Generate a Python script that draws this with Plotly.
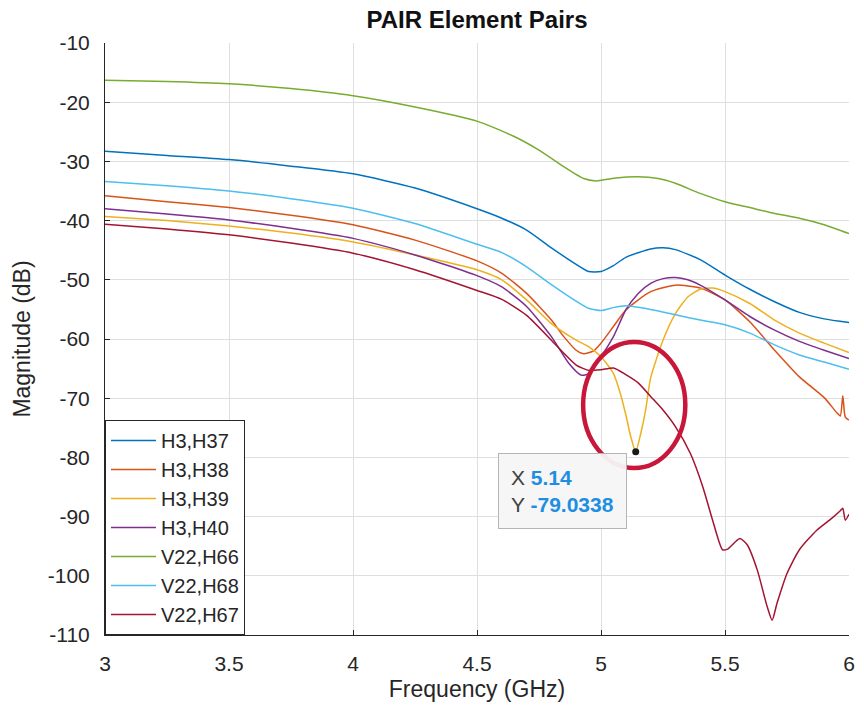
import plotly.graph_objects as go

# ---------------- data ----------------
series_names = ["H3,H37", "H3,H38", "H3,H39", "H3,H40", "V22,H66", "V22,H68", "V22,H67"]
series_colors = ["#0072BD", "#D95319", "#EDB120", "#7E2F8E", "#77AC30", "#4DBEEE", "#A2142F"]

x_h37 = [3.0, 3.25, 3.5, 3.75, 4.0, 4.25, 4.5, 4.6, 4.7, 4.8, 4.9, 4.95, 5.0, 5.05, 5.1, 5.2, 5.25, 5.3, 5.4, 5.5, 5.6, 5.7, 5.8, 5.9, 6.0]
y_h37 = [-28.3, -29.0, -29.7, -30.8, -32.1, -34.5, -38.0, -39.6, -41.6, -44.6, -47.4, -48.6, -48.6, -47.6, -46.2, -44.8, -44.6, -44.9, -46.6, -49.2, -51.6, -53.7, -55.5, -56.6, -57.2]

x_h38 = [3.0, 3.25, 3.5, 3.75, 4.0, 4.25, 4.5, 4.6, 4.7, 4.8, 4.85, 4.9, 4.93, 4.97, 5.0, 5.05, 5.1, 5.2, 5.3, 5.4, 5.5, 5.6, 5.7, 5.8, 5.9, 5.95, 5.965, 5.975, 5.985, 6.0]
y_h38 = [-35.8, -36.8, -37.8, -39.1, -40.7, -43.3, -46.8, -48.9, -52.3, -56.8, -59.6, -61.9, -62.5, -62.0, -60.7, -57.9, -55.1, -52.0, -50.9, -51.4, -53.4, -57.1, -61.9, -66.4, -69.9, -72.4, -73.0, -69.6, -73.2, -73.7]

x_h39 = [3.0, 3.25, 3.5, 3.75, 4.0, 4.25, 4.5, 4.6, 4.7, 4.8, 4.9, 4.95, 5.0, 5.05, 5.08, 5.1, 5.12, 5.14, 5.16, 5.18, 5.2, 5.25, 5.3, 5.35, 5.4, 5.45, 5.5, 5.6, 5.7, 5.8, 5.9, 6.0]
y_h39 = [-39.3, -40.0, -40.9, -42.1, -43.6, -45.8, -48.3, -50.0, -53.4, -57.4, -60.2, -61.3, -63.0, -65.8, -69.5, -72.8, -76.5, -79.0338, -76.0, -72.0, -66.6, -60.2, -55.7, -52.9, -51.6, -51.4, -52.0, -54.0, -56.8, -59.0, -60.7, -62.3]

x_h40 = [3.0, 3.25, 3.5, 3.75, 4.0, 4.25, 4.5, 4.6, 4.7, 4.8, 4.87, 4.92, 4.95, 5.0, 5.05, 5.1, 5.15, 5.2, 5.25, 5.3, 5.35, 5.4, 5.5, 5.6, 5.7, 5.8, 5.9, 6.0]
y_h40 = [-38.0, -38.9, -39.9, -41.3, -43.0, -45.8, -49.3, -51.2, -54.5, -59.6, -64.1, -66.1, -65.9, -63.0, -59.6, -55.1, -52.3, -50.6, -49.8, -49.6, -50.0, -50.9, -53.4, -56.2, -58.5, -60.4, -61.9, -63.3]

x_h66 = [3.0, 3.25, 3.5, 3.75, 4.0, 4.25, 4.5, 4.65, 4.75, 4.85, 4.93, 4.98, 5.0, 5.06, 5.15, 5.23, 5.3, 5.4, 5.5, 5.6, 5.7, 5.8, 5.9, 6.0]
y_h66 = [-16.3, -16.5, -16.9, -17.7, -18.9, -20.8, -23.2, -25.8, -28.1, -30.9, -32.9, -33.3, -33.2, -32.8, -32.6, -32.9, -33.7, -35.4, -36.8, -37.8, -38.8, -39.6, -40.7, -42.2]

x_h68 = [3.0, 3.25, 3.5, 3.75, 4.0, 4.25, 4.5, 4.6, 4.7, 4.8, 4.9, 4.95, 5.0, 5.05, 5.1, 5.2, 5.3, 5.4, 5.5, 5.6, 5.7, 5.8, 5.9, 6.0]
y_h68 = [-33.4, -34.1, -35.0, -36.3, -37.9, -40.5, -44.0, -45.4, -47.8, -50.8, -53.6, -54.8, -55.2, -54.7, -54.4, -55.0, -55.9, -56.8, -57.6, -59.0, -61.0, -62.7, -63.9, -65.1]

x_h67 = [3.0, 3.25, 3.5, 3.75, 4.0, 4.25, 4.5, 4.6, 4.7, 4.8, 4.85, 4.9, 4.95, 5.0, 5.05, 5.1, 5.15, 5.2, 5.25, 5.3, 5.36, 5.41, 5.45, 5.49, 5.51, 5.56, 5.59, 5.63, 5.67, 5.69, 5.71, 5.75, 5.8, 5.87, 5.93, 5.965, 5.975, 5.985, 6.0]
y_h67 = [-40.6, -41.4, -42.4, -43.8, -45.5, -48.3, -51.8, -53.3, -56.0, -60.2, -62.4, -64.4, -65.3, -65.2, -64.9, -66.0, -67.4, -69.7, -72.0, -74.8, -79.3, -84.9, -90.6, -95.6, -95.5, -93.7, -94.8, -99.0, -105.2, -107.5, -104.6, -99.6, -95.6, -92.3, -90.3, -89.0, -88.6, -90.6, -89.6]

series_x = [x_h37, x_h38, x_h39, x_h40, x_h66, x_h68, x_h67]
series_y = [y_h37, y_h38, y_h39, y_h40, y_h66, y_h68, y_h67]

# data tip
tip_x = [5.14]
tip_y = [-79.0338]

x_tickvals = [3, 3.5, 4, 4.5, 5, 5.5, 6]
x_ticktext = ["3", "3.5", "4", "4.5", "5", "5.5", "6"]
y_tickvals = [-110, -100, -90, -80, -70, -60, -50, -40, -30, -20, -10]
y_ticktext = ["-110", "-100", "-90", "-80", "-70", "-60", "-50", "-40", "-30", "-20", "-10"]

FONT = "Liberation Sans, Arial, Helvetica, sans-serif"
AX = "#262626"
GRID = "#dfdfdf"

fig = go.Figure()
for i, (nm, col, xs, ys) in enumerate(zip(series_names, series_colors, series_x, series_y)):
    fig.add_trace(go.Scatter(
        x=xs, y=ys, mode="lines", name=nm,
        line=dict(color=col, width=1.5, shape="spline", smoothing=0.6),
        legendgroup="g%d" % i,
    ))

fig.add_trace(go.Scatter(
    x=tip_x, y=tip_y, mode="markers", showlegend=False,
    marker=dict(color="#1a1a1a", size=7),
))

# red highlight ellipse
fig.add_shape(type="circle", xref="x", yref="y",
              x0=4.928, x1=5.34, y0=-81.8, y1=-60.5,
              line=dict(color="#C8173A", width=4.5), layer="above")

# data tip box
fig.add_annotation(
    x=4.583, y=-79.3, xref="x", yref="y", xanchor="left", yanchor="top",
    showarrow=False, align="left",
    text=("<span style='color:#404040'>X</span> <b><span style='color:#1E8FE0'>%s</span></b><br>"
          "<span style='color:#404040'>Y</span> <b><span style='color:#1E8FE0'>%s</span></b>")
         % ("%g" % tip_x[0], "%.4f" % tip_y[0]),
    font=dict(family=FONT, size=21),
    bgcolor="rgba(246,246,246,0.95)", bordercolor="#b5b5b5", borderwidth=1, borderpad=12,
)

fig.update_layout(
    width=864, height=710,
    margin=dict(l=105, r=9, t=43, b=75),
    paper_bgcolor="white", plot_bgcolor="white",
    font=dict(family=FONT, size=20, color=AX),
    title=dict(text="<b>PAIR Element Pairs</b>", x=0.5, xref="paper", xanchor="center",
               y=1 - 20 / 710, yref="container", yanchor="middle",
               font=dict(family=FONT, size=24, color="#111111")),
    showlegend=True,
    legend=dict(x=0, y=0, xanchor="left", yanchor="bottom", xref="paper", yref="paper",
                bgcolor="white", bordercolor=AX, borderwidth=1,
                font=dict(family=FONT, size=20, color=AX),
                tracegroupgap=0, itemwidth=45, traceorder="normal"),
)

fig.update_xaxes(
    range=[3, 6], tickvals=x_tickvals, ticktext=x_ticktext,
    showgrid=True, gridcolor=GRID, gridwidth=1, zeroline=False,
    showline=True, linecolor=AX, linewidth=1, mirror=False,
    ticks="inside", ticklen=5, tickcolor=AX, ticklabelstandoff=10,
    tickfont=dict(family=FONT, size=21, color=AX),
    title=dict(text="Frequency (GHz)", font=dict(family=FONT, size=23, color=AX), standoff=6),
)
fig.update_yaxes(
    range=[-110, -10], tickvals=y_tickvals, ticktext=y_ticktext,
    showgrid=True, gridcolor=GRID, gridwidth=1, zeroline=False,
    showline=True, linecolor=AX, linewidth=1, mirror=False,
    ticks="inside", ticklen=5, tickcolor=AX, ticklabelstandoff=10,
    tickfont=dict(family=FONT, size=21, color=AX),
    title=dict(text="Magnitude (dB)", font=dict(family=FONT, size=23, color=AX), standoff=10),
)

fig.write_html("out.html")
